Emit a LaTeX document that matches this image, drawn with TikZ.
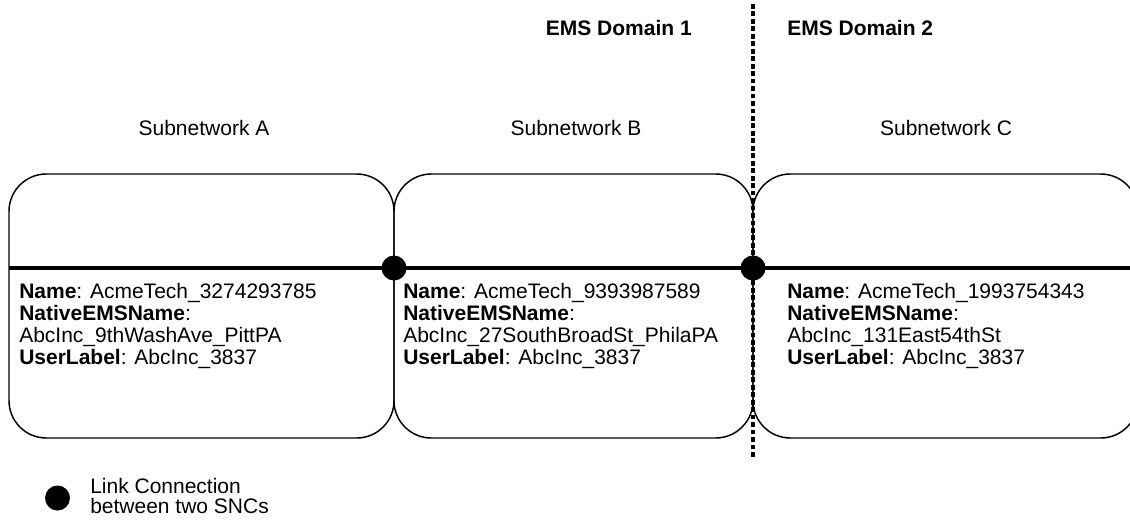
\documentclass[tikz,border=0pt]{standalone}
\usepackage{fontspec}
\setmainfont{Liberation Sans}
\begin{document}
\begin{tikzpicture}[x=0.75pt, y=-0.75pt,
	box/.style={draw, line width=1.1pt, rounded corners=28pt, minimum height=198pt, inner sep=0pt},
	info/.style={anchor=base west, align=left, inner sep=0pt, font=\fontsize{15.75}{16.5}\selectfont},
	label/.style={anchor=base, inner sep=0pt, font=\fontsize{15.75}{16.5}\selectfont},
	domtitle/.style={inner sep=0pt, font=\fontsize{15.75}{16.5}\selectfont\bfseries},
	linkdot/.style={circle, fill, inner sep=0pt, minimum size=18.75pt}]
	\clip (0,0) rectangle (1130,521);
	
	% subnetworks
	\node [box, minimum width=288.75pt] (boxA) at (201.5,306) {};
	\node [box, minimum width=269.25pt] (boxB) at (573.5,306) {};
	\node [box, minimum width=288.75pt] (boxC) at (945.5,306) {};
	
	\node [label] (subA) at (204,135) {Subnetwork A};
	\node [label] (subB) at (576,135) {Subnetwork B};
	\node [label] (subC) at (946,135) {Subnetwork C};
	
	% link between the subnetworks
	\coordinate (busL) at (9,268);
	\coordinate (busR) at (1140,268);
	\draw [line width=3pt] (busL) -- (busR);
	
	% domain border
	\coordinate (sepTop) at (753,4);
	\coordinate (sepBot) at (753,457);
	\draw [line width=3.6pt, dash pattern=on 3.6pt off 2pt] (sepTop) -- (sepBot);
	
	\node [domtitle, anchor=base east] (dom1) at (692,36) {EMS Domain 1};
	\node [domtitle, anchor=base west] (dom2) at (787,36) {EMS Domain 2};
	
	\node [linkdot] (lcAB) at (394,268) {};
	\node [linkdot] (lcBC) at (753,268) {};
	
	% subnetwork attributes (base = last line)
	\node [info] (infoA) at (19,364) {\textbf{Name}: AcmeTech\_3274293785\\ \textbf{NativeEMSName}:\\ AbcInc\_9thWashAve\_PittPA\\ \textbf{UserLabel}: AbcInc\_3837};
	\node [info] (infoB) at (403,364) {\textbf{Name}: AcmeTech\_9393987589\\ \textbf{NativeEMSName}:\\ AbcInc\_27SouthBroadSt\_PhilaPA\\ \textbf{UserLabel}: AbcInc\_3837};
	\node [info] (infoC) at (787,364) {\textbf{Name}: AcmeTech\_1993754343\\ \textbf{NativeEMSName}:\\ AbcInc\_131East54thSt\\ \textbf{UserLabel}: AbcInc\_3837};
	
	% legend
	\node [linkdot] (legendDot) at (57.5,498) {};
	\node [info, font=\fontsize{15.75}{14.8}\selectfont] (legendText) at (90,513) {Link Connection\\ between two SNCs};
\end{tikzpicture}
\end{document}
